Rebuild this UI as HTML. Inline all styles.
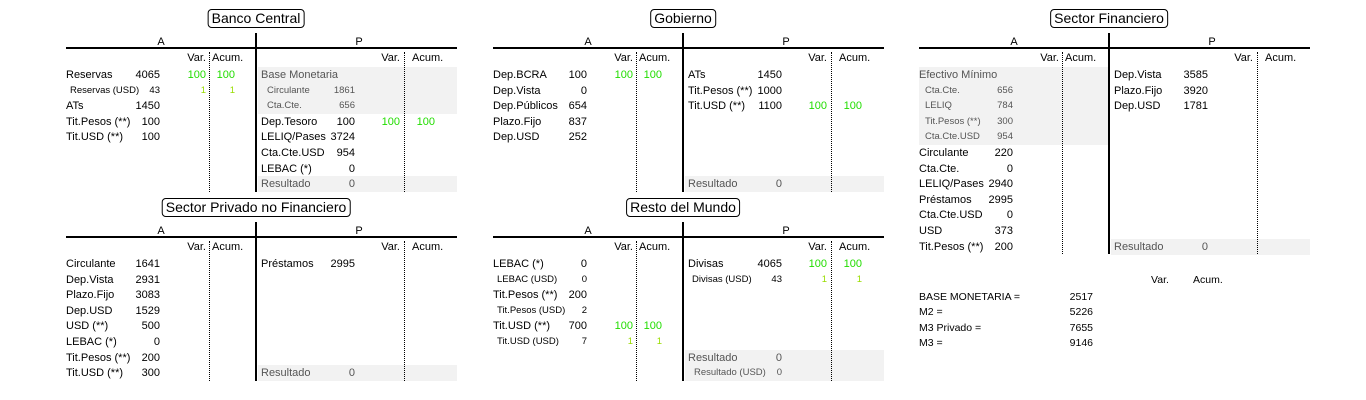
<!DOCTYPE html>
<html><head><meta charset="utf-8">
<style>
html,body{margin:0;padding:0;background:#fff;}
#root{position:relative;width:1366px;height:400px;overflow:hidden;font-family:"Liberation Sans",Arial,sans-serif;font-size:11px;color:#000;}
.t{position:absolute;white-space:nowrap;line-height:16px;height:16px;}
.r{text-align:right;}
.box{position:absolute;border:1px solid #000;border-radius:4px;font-size:14px;line-height:17px;padding:0 3px;white-space:nowrap;}
.hl{position:absolute;height:2px;background:#000;}
.vl{position:absolute;width:2px;background:#000;}
.dl{position:absolute;width:0;border-left:1px dotted #000;}
.bg{position:absolute;background:#f2f2f2;}
.s{font-size:9.5px;}
.g{color:#555;}
.gr{color:#22dd00;}
.yg{color:#99dd00;}
</style></head><body>
<div id="root"></div>
<script>
// rows: [rowIndex, type, label, value, var, acum]; type m=main s=sub gh=grey header gs=grey sub g=grey main
const bcA=[[0,'m','Reservas','4065','100','100'],[1,'s','Reservas (USD)','43','1','1'],[2,'m','ATs','1450'],[3,'m','Tit.Pesos (**)','100'],[4,'m','Tit.USD (**)','100']];
const bcP=[[0,'gh','Base Monetaria'],[1,'gs','Circulante','1861'],[2,'gs','Cta.Cte.','656'],[3,'m','Dep.Tesoro','100','100','100'],[4,'m','LELIQ/Pases','3724'],[5,'m','Cta.Cte.USD','954'],[6,'m','LEBAC (*)','0'],[7,'g','Resultado','0']];
const goA=[[0,'m','Dep.BCRA','100','100','100'],[1,'m','Dep.Vista','0'],[2,'m','Dep.Públicos','654'],[3,'m','Plazo.Fijo','837'],[4,'m','Dep.USD','252']];
const goP=[[0,'m','ATs','1450'],[1,'m','Tit.Pesos (**)','1000'],[2,'m','Tit.USD (**)','1100','100','100'],[7,'g','Resultado','0']];
const sfA=[[0,'gh','Efectivo Mínimo'],[1,'gs','Cta.Cte.','656'],[2,'gs','LELIQ','784'],[3,'gs','Tit.Pesos (**)','300'],[4,'gs','Cta.Cte.USD','954'],[5,'m','Circulante','220'],[6,'m','Cta.Cte.','0'],[7,'m','LELIQ/Pases','2940'],[8,'m','Préstamos','2995'],[9,'m','Cta.Cte.USD','0'],[10,'m','USD','373'],[11,'m','Tit.Pesos (**)','200']];
const sfP=[[0,'m','Dep.Vista','3585'],[1,'m','Plazo.Fijo','3920'],[2,'m','Dep.USD','1781'],[11,'g','Resultado','0']];
const spA=[[0,'m','Circulante','1641'],[1,'m','Dep.Vista','2931'],[2,'m','Plazo.Fijo','3083'],[3,'m','Dep.USD','1529'],[4,'m','USD (**)','500'],[5,'m','LEBAC (*)','0'],[6,'m','Tit.Pesos (**)','200'],[7,'m','Tit.USD (**)','300']];
const spP=[[0,'m','Préstamos','2995'],[7,'g','Resultado','0']];
const rmA=[[0,'m','LEBAC (*)','0'],[1,'s','LEBAC (USD)','0'],[2,'m','Tit.Pesos (**)','200'],[3,'s','Tit.Pesos (USD)','2'],[4,'m','Tit.USD (**)','700','100','100'],[5,'s','Tit.USD (USD)','7','1','1']];
const rmP=[[0,'m','Divisas','4065','100','100'],[1,'s','Divisas (USD)','43','1','1'],[6,'g','Resultado','0'],[7,'gs','Resultado (USD)','0']];
const summaryLabels=['BASE MONETARIA =','M2 =','M3 Privado =','M3 ='];
const summaryValues=['2517','5226','7655','9146'];

const root=document.getElementById('root');
const PITCH=15.6;
function mk(cls,name,st,txt){
  const e=document.createElement('div');
  e.className=cls;
  
  
  Object.assign(e.style,st);
  if(txt!==undefined)e.textContent=txt;
  root.appendChild(e);return e;
}
function px(v){return v+'px';}
function panel(x0,y0,title,key,A,P,nrows){
  const rowsTop=y0+58;
  const bottom=rowsTop+nrows*PITCH;
  function greys(rows,bx,bw,side){
    rows.forEach(r=>{ if(r[1][0]==='g'){ mk('bg',key+'-'+side+'-grey-row',{left:px(bx),top:px(rowsTop+r[0]*PITCH),width:px(bw),height:px(PITCH+0.5)}); }});
  }
  greys(A,x0,190,'a'); greys(P,x0+192,199,'p');
  const tb=mk('box',key+'-title',{top:px(y0),left:px(x0+190)},title);
  tb.style.transform='translateX(-50%)';
  mk('t',key+'-a-header',{left:px(x0+85),top:px(y0+25),width:'20px',textAlign:'center'},'A');
  mk('t',key+'-p-header',{left:px(x0+283),top:px(y0+25),width:'20px',textAlign:'center'},'P');
  mk('hl',key+'-header-line',{left:px(x0),top:px(y0+38),width:px(391)});
  mk('vl',key+'-divider',{left:px(x0+189),top:px(y0+24),height:px(bottom-(y0+24))});
  mk('dl',key+'-a-dots',{left:px(x0+143),top:px(y0+43),height:px(bottom-(y0+43))});
  mk('dl',key+'-p-dots',{left:px(x0+338),top:px(y0+43),height:px(bottom-(y0+43))});
  mk('t r',key+'-a-var-header',{left:px(x0+100),width:'40px',top:px(y0+41)},'Var.');
  mk('t',key+'-a-acum-header',{left:px(x0+146),top:px(y0+41)},'Acum.');
  mk('t r',key+'-p-var-header',{left:px(x0+294),width:'40px',top:px(y0+41)},'Var.');
  mk('t',key+'-p-acum-header',{left:px(x0+346),top:px(y0+41)},'Acum.');
  function rows(list,lx,vx,varx,acx,side){
    list.forEach(r=>{
      const [i,ty,lab,val,vr,ac]=r;
      const y=rowsTop+i*PITCH;
      const sub=(ty==='s'||ty==='gs');
      const grey=ty[0]==='g';
      let cls='t'+(sub?' s':'')+(grey?' g':'');
      mk(cls,key+'-'+side+'-label',{left:px(lx+(sub?(grey?6:4):0)),top:px(y)},lab);
      if(val!==undefined) mk(cls+' r',key+'-'+side+'-value',{left:px(vx-60),width:'60px',top:px(y)},val);
      const col=sub?' yg':' gr';
      if(vr!==undefined) mk('t r'+(sub?' s':'')+col,key+'-'+side+'-var',{left:px(varx-40),width:'40px',top:px(y)},vr);
      if(ac!==undefined) mk('t r'+(sub?' s':'')+col,key+'-'+side+'-acum',{left:px(acx-40),width:'40px',top:px(y)},ac);
    });
  }
  rows(A,x0,x0+94,x0+140,x0+169,'a');
  rows(P,x0+195,x0+289,x0+334,x0+369,'p');
}
panel(66,9,'Banco Central','banco-central',bcA,bcP,8);
panel(493,9,'Gobierno','gobierno',goA,goP,8);
panel(919,9,'Sector Financiero','sector-financiero',sfA,sfP,12);
panel(66,198,'Sector Privado no Financiero','sector-privado',spA,spP,8);
panel(493,198,'Resto del Mundo','resto-mundo',rmA,rmP,8);
mk('t',"summary-var-header",{left:'1151px',top:'272px',fontSize:'10.5px'},'Var.');
mk('t',"summary-acum-header",{left:'1193px',top:'272px',fontSize:'10.5px'},'Acum.');
summaryLabels.forEach((l,i)=>{
  const y=289+i*15.4;
  mk('t','summary-label',{left:'919px',top:px(y),fontSize:'10.5px'},l);
  mk('t r','summary-value',{left:'1033px',width:'60px',top:px(y),fontSize:'10.5px'},summaryValues[i]);
});
</script>
</body></html>
